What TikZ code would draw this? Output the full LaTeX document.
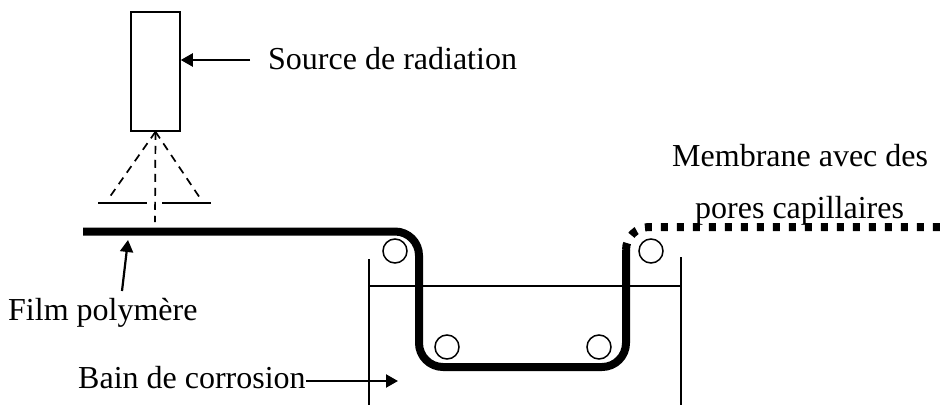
\documentclass[tikz,border=0pt]{standalone}
\usepackage{fontspec}
\setmainfont{Liberation Serif}
\usetikzlibrary{arrows.meta}
\tikzset{
  x=1pt,y=-1pt,
  lbl/.style={inner sep=0pt,anchor=base west,font=\fontsize{32}{32}\selectfont},
  thin line/.style={line width=1.5pt},
  pointer/.style={line width=2.2pt,-{Triangle[length=12pt,width=13pt]}},
  ray/.style={line width=1.7pt,dash pattern=on 8pt off 6pt},
  film/.style={line width=8pt,line join=round},
  porous/.style={line width=8pt,dash pattern=on 7pt off 9pt},
  roller/.style={circle,draw,line width=1.5pt,minimum size=24pt,inner sep=0pt}
}
\begin{document}
\begin{tikzpicture}
\useasboundingbox (0,0) rectangle (948,405);
% source
\node[draw,thin line,minimum width=49pt,minimum height=119pt,inner sep=0pt] (src) at (155.5,71.5) {};
\node[lbl] (srcl) at (268,69) {Source de radiation};
\coordinate (srcarrow) at (250,60);
\draw[pointer] (srcarrow) -- (src.east |- srcarrow);
% beam
\coordinate (bl) at (109,198);
\coordinate (bm) at (155,222);
\coordinate (br) at (200,198);
\draw[ray] (src.south) -- (bl);
\draw[ray] (src.south) -- (bm);
\draw[ray] (src.south) -- (br);
% mask
\coordinate (m1) at (98,203); \coordinate (m2) at (147,203);
\coordinate (m3) at (162,203); \coordinate (m4) at (211,203);
\draw[thin line] (m1) -- (m2);
\draw[thin line] (m3) -- (m4);
% tank
\coordinate (tl) at (369,259); \coordinate (tlb) at (369,405);
\coordinate (tr) at (681,257); \coordinate (trb) at (681,405);
\coordinate (wl) at (369,286); \coordinate (wr) at (681,286);
\draw[thin line] (tl) -- (tlb);
\draw[thin line] (tr) -- (trb);
\draw[thin line] (wl) -- (wr);
% rollers
\node[roller] (r1) at (395,251) {};
\node[roller] (r2) at (447,347) {};
\node[roller] (r3) at (599,347) {};
\node[roller] (r4) at (651,251) {};
% film
\coordinate (f0) at (83,231.5);
\coordinate (f1) at (395,231.5);
\coordinate (f3) at (419,343);
\coordinate (f5) at (602,367);
\coordinate (f7) at (626,250);
\draw[film] (f0) -- (f1) arc[start angle=90,end angle=0,radius=24pt] -- (f3)
  arc[start angle=180,end angle=270,radius=24pt] -- (f5)
  arc[start angle=-90,end angle=0,radius=24pt] -- (f7);
% porous part
\coordinate (p0) at (626,250);
\coordinate (p2) at (948,227);
\draw[porous] (p0) arc[start angle=180,end angle=90,radius=23pt] -- (p2);
% labels
\node[lbl] (mem1) at (672,166) {Membrane avec des};
\node[lbl] (mem2) at (695,218) {pores capillaires};
\node[lbl] (filml) at (8,320) {Film polymère};
\node[lbl] (bain) at (78,388) {Bain de corrosion};
\coordinate (fa) at (122,291);
\coordinate (fb) at (128,240);
\draw[pointer] (fa) -- (fb);
\coordinate (bb) at (398,381);
\draw[pointer] (bain.base east |- bb) -- (bb);
\end{tikzpicture}
\end{document}
